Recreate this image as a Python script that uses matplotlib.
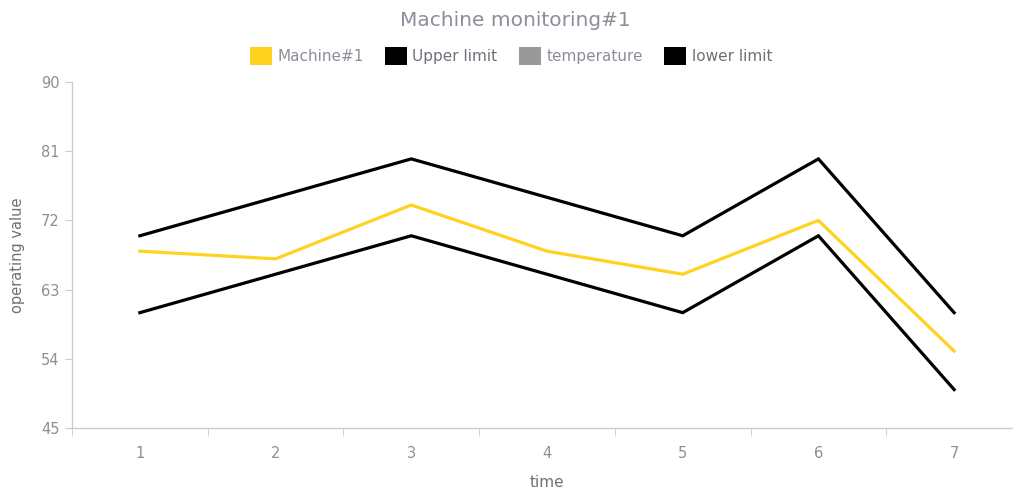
import matplotlib
matplotlib.use("Agg")
import matplotlib.pyplot as plt
from matplotlib.patches import Patch

plt.rcParams["font.family"] = ["DejaVu Sans"]

categories = ["1", "2", "3", "4", "5", "6", "7"]
machine1 = [68, 67, 74, 68, 65, 72, 55]
upper_limit = [70, 75, 80, 75, 70, 80, 60]
temperature = []
lower_limit = [60, 65, 70, 65, 60, 70, 50]
y_ticks = [45, 54, 63, 72, 81, 90]

W, H = 1013, 491
fig = plt.figure(figsize=(W / 100, H / 100), dpi=100)
ax = fig.add_axes([72 / W, 63 / H, 950 / W, 346 / H])

x = list(range(len(categories)))
ax.plot(x, upper_limit, color="#000000", lw=2.3, solid_joinstyle="miter", zorder=3)
ax.plot(x, lower_limit, color="#000000", lw=2.3, solid_joinstyle="miter", zorder=3)
ax.plot(x, machine1, color="#FFD21F", lw=2.3, solid_joinstyle="miter", zorder=4)

ax.set_xlim(-0.5, len(categories) - 0.5)
ax.set_ylim(45, 90)
ax.set_yticks(y_ticks)
ax.set_yticklabels([str(v) for v in y_ticks])
ax.set_xticks(x)
ax.set_xticklabels(categories)
ax.set_xticks([i - 0.5 for i in range(len(categories) + 1)], minor=True)

for s in ["top", "right"]:
    ax.spines[s].set_visible(False)
for s in ["left", "bottom"]:
    ax.spines[s].set_color("#cccccc")
    ax.spines[s].set_linewidth(1.0)

ax.tick_params(axis="y", colors="#cccccc", labelcolor="#8a8f99", labelsize=10.5, length=5, pad=4)
ax.tick_params(axis="x", which="major", length=0, labelcolor="#8a8f99", labelsize=10.5, pad=13)
ax.tick_params(axis="x", which="minor", length=6, color="#cccccc")

ax.set_ylabel("operating value", color="#6e7079", fontsize=10.5, labelpad=11)
ax.set_xlabel("time", color="#6e7079", fontsize=11, labelpad=10)

fig.text(515 / W, 1 - 20 / H, "Machine monitoring#1", ha="center", va="center",
         color="#8a8f99", fontsize=14.5)

handles = [
    Patch(facecolor="#FFD21F", edgecolor="none"),
    Patch(facecolor="#000000", edgecolor="none"),
    Patch(facecolor="#999999", edgecolor="none"),
    Patch(facecolor="#000000", edgecolor="none"),
]
labels = ["Machine#1", "Upper limit", "temperature", "lower limit"]
leg = fig.legend(handles, labels, loc="center", bbox_to_anchor=(511 / W, 1 - 56 / H), ncol=4,
                 frameon=False, fontsize=11, handlelength=1.45, handleheight=1.35,
                 handletextpad=0.35, columnspacing=1.4)
for i, t in enumerate(leg.get_texts()):
    t.set_color("#8a8f99" if i != 1 and i != 3 else "#6e7079")

fig.savefig("out.png", dpi=100)
